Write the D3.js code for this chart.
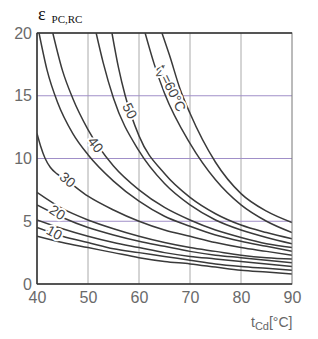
<!DOCTYPE html>
<html>
<head>
<meta charset="utf-8">
<script src="https://cdn.jsdelivr.net/npm/d3@7"></script>
<style>
  body { margin:0; background:#fff; }
  svg { display:block; }
  .tick-label { font-family:"Liberation Sans", Arial, sans-serif; font-size:16px; fill:#6a6a6a; }
  .curve-label { font-family:"Liberation Sans", Arial, sans-serif; font-size:14px; fill:#444;
                 stroke:#fff; stroke-width:4px; paint-order:stroke; }
</style>
</head>
<body>
<svg width="318" height="339"></svg>
<script>
// evaporation temperature t_V of each curve
const tvValues = [5, 10, 15, 20, 25, 30, 35, 40, 45, 50, 55, 60];

// points [t_Cd, eps], one list per curve
const curve5  = [[40,3.8],[45,3.3],[50,2.9],[55,2.5],[60,2.1],[65,1.8],[70,1.6],[75,1.35],[80,1.1],[85,0.95],[90,0.8]];
const curve10 = [[40,4.5],[45,3.8],[50,3.3],[55,2.8],[60,2.5],[65,2.2],[70,1.9],[75,1.6],[80,1.4],[85,1.25],[90,1.1]];
const curve15 = [[40,5.1],[45,4.4],[50,3.8],[55,3.3],[60,2.9],[65,2.5],[70,2.2],[75,2.0],[80,1.8],[85,1.6],[90,1.4]];
const curve20 = [[40,6.3],[45,5.3],[50,4.5],[55,3.9],[60,3.4],[65,3.0],[70,2.6],[75,2.3],[80,2.1],[85,1.9],[90,1.7]];
const curve25 = [[40,7.3],[45,6.0],[50,5.1],[55,4.4],[60,3.8],[65,3.3],[70,2.9],[75,2.6],[80,2.3],[85,2.1],[90,2.0]];
const curve30 = [[40,12.0],[40.7,11.0],[41.6,10.0],[42.6,9.3],[44,8.75],[46,8.2],[50,7.0],[55,5.9],[60,5.0],[65,4.3],[70,3.8],[75,3.3],[80,2.9],[85,2.6],[90,2.3]];
const curve35 = [[40.4,20],[42,17.0],[44,14.5],[47,12.0],[50,10.3],[55,8.2],[60,6.6],[65,5.4],[70,4.6],[75,3.9],[80,3.4],[85,3.0],[90,2.6]];
const curve40 = [[43.1,20],[45,17.0],[47,14.8],[50,12.3],[55,9.4],[60,7.5],[65,6.1],[70,5.1],[75,4.3],[80,3.7],[85,3.2],[90,2.9]];
const curve45 = [[51.6,20],[53,17.6],[55,14.8],[60,10.6],[65,8.0],[70,6.3],[75,5.1],[80,4.3],[85,3.7],[90,3.2]];
const curve50 = [[54.7,20],[56,17.2],[57.3,15],[60,11.8],[65,8.8],[70,6.9],[75,5.6],[80,4.7],[85,4.1],[90,3.6]];
const curve55 = [[61.2,20],[63,17.5],[65,15.2],[70,11.2],[75,8.3],[80,6.3],[85,5.0],[90,4.1]];
const curve60 = [[64.5,20],[66,18.2],[68,15.6],[70,13.6],[75,9.7],[80,7.2],[85,5.8],[90,4.9]];
const curves = [curve5, curve10, curve15, curve20, curve25, curve30, curve35, curve40, curve45, curve50, curve55, curve60];

const xTicks = [40, 50, 60, 70, 80, 90];
const yTicks = [0, 5, 10, 15, 20];

// curve labels: text, position on the curve (t_Cd, eps), rotation
const curveLabels = [
  { t: '10', x: 43.4, y: 4.1, a: 28 },
  { t: '20', x: 44.0, y: 5.7, a: 33 },
  { t: '30', x: 46.0, y: 8.3, a: 40 },
  { t: '40', x: 51.5, y: 11.1, a: 52 },
  { t: '50', x: 58.2, y: 13.8, a: 64 }
];

function Start(){
  const svg = d3.select('svg');
  const margin = { top:33, right:26, bottom:55, left:37 };
  const width = +svg.attr('width') - margin.left - margin.right;
  const height = +svg.attr('height') - margin.top - margin.bottom;

  const xscale = d3.scaleLinear().domain([40, 90]).range([0, width]);
  const yscale = d3.scaleLinear().domain([0, 20]).range([height, 0]);

  const g = svg.append('g')
    .attr('transform', `translate(${margin.left},${margin.top})`);

  g.append('clipPath').attr('id', 'plot')
    .append('rect').attr('width', width).attr('height', height);

  // grid
  g.selectAll('.vgrid').data([50, 60, 70, 80]).enter().append('line')
    .attr('x1', d => xscale(d)).attr('x2', d => xscale(d))
    .attr('y1', 0).attr('y2', height)
    .attr('stroke', '#aaa').attr('stroke-width', 1);
  g.selectAll('.hgrid').data([5, 10, 15]).enter().append('line')
    .attr('x1', 0).attr('x2', width)
    .attr('y1', d => yscale(d)).attr('y2', d => yscale(d))
    .attr('stroke', '#a08fc8').attr('stroke-width', 1);

  // curves
  const line = d3.line()
    .x(d => xscale(d[0]))
    .y(d => yscale(d[1]))
    .curve(d3.curveMonotoneX);
  g.append('g').attr('clip-path', 'url(#plot)')
    .selectAll('path').data(curves).enter().append('path')
      .attr('d', line)
      .attr('fill', 'none')
      .attr('stroke', '#3a3a3a')
      .attr('stroke-width', 1.5);

  // frame
  g.append('rect').attr('width', width).attr('height', height)
    .attr('fill', 'none').attr('stroke', '#777').attr('stroke-width', 1);
  g.append('line').attr('x1', 0).attr('x2', width).attr('y1', 0).attr('y2', 0)
    .attr('stroke', '#333').attr('stroke-width', 1.5);
  g.append('line').attr('x1', 0).attr('x2', 0).attr('y1', 0).attr('y2', height)
    .attr('stroke', '#333').attr('stroke-width', 1.5);
  g.append('line').attr('x1', 0).attr('x2', width).attr('y1', height).attr('y2', height)
    .attr('stroke', '#333').attr('stroke-width', 1.5);

  // axes
  const xAxisG = g.append('g')
    .attr('transform', `translate(0,${height})`)
    .call(d3.axisBottom(xscale).tickValues(xTicks).tickSize(0).tickPadding(8));
  const yAxisG = g.append('g')
    .call(d3.axisLeft(yscale).tickValues(yTicks).tickSize(0).tickPadding(5));
  [xAxisG, yAxisG].forEach(a => {
    a.select('.domain').remove();
    a.attr('font-size', null).attr('font-family', null);
    a.selectAll('text').attr('class', 'tick-label');
  });

  // curve labels
  curveLabels.forEach(l => {
    g.append('text').attr('class', 'curve-label')
      .attr('text-anchor', 'middle').attr('dy', '0.35em')
      .attr('transform', `translate(${xscale(l.x)},${yscale(l.y)}) rotate(${l.a})`)
      .text(l.t);
  });
  const t60 = g.append('text').attr('class', 'curve-label')
    .attr('text-anchor', 'middle').attr('dy', '0.35em')
    .attr('stroke-width', 0)
    .attr('transform', `translate(${xscale(66.3)},${yscale(15.6)}) rotate(64)`);
  t60.append('tspan').text('t');
  t60.append('tspan').attr('font-size', '10px').attr('dy', '3').text('V');
  t60.append('tspan').attr('dy', '-3').text('=60°C');

  // title
  const title = svg.append('text')
    .attr('x', 38).attr('y', 20)
    .attr('font-family', '"Liberation Serif", "Times New Roman", serif')
    .attr('fill', '#111');
  title.append('tspan').attr('font-size', '18px').text('ε');
  title.append('tspan').attr('font-size', '11px').attr('dx', 6).attr('dy', 3).text('PC,RC');

  // x axis label
  const xl = svg.append('text')
    .attr('x', 251).attr('y', 327)
    .attr('font-family', '"Liberation Sans", Arial, sans-serif')
    .attr('fill', '#666');
  xl.append('tspan').attr('font-size', '14px').text('t');
  xl.append('tspan').attr('font-size', '11px').attr('dy', 3).text('Cd');
  xl.append('tspan').attr('font-size', '14px').attr('dy', -3).text('[°C]');
}
Start();
</script>
</body>
</html>
